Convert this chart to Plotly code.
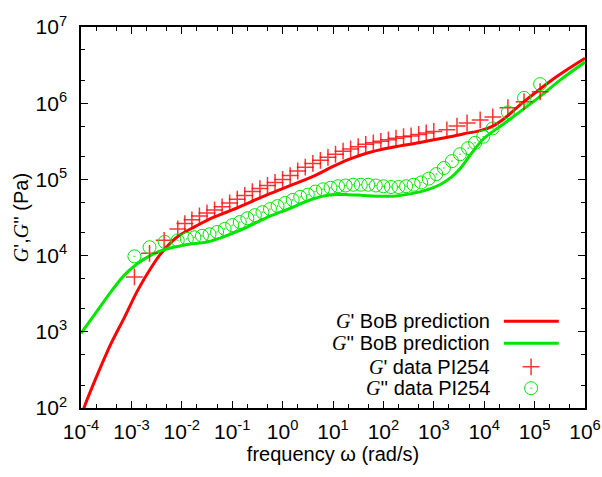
import numpy as np
import plotly.graph_objects as go

# BoB prediction curves (log10 frequency, log10 modulus)
logw_fit_Gp = [-4.0, -3.93, -3.66, -3.40, -3.13, -2.87, -2.60, -2.41, -2.08, -1.74, -1.48, -1.0,
               -0.65, -0.3, 0.0, 0.35, 0.7, 1.0, 1.34, 1.7, 2.0, 2.33, 2.7, 3.0, 3.32, 3.6, 3.92,
               4.17, 4.4, 4.77, 5.0, 5.44, 6.0]
logG_fit_Gp = [1.88, 2.02, 2.46, 2.85, 3.20, 3.55, 3.85, 4.03, 4.25, 4.38, 4.47, 4.60,
               4.70, 4.80, 4.88, 4.97, 5.07, 5.17, 5.27, 5.35, 5.40, 5.44, 5.48, 5.52, 5.56, 5.60, 5.64,
               5.70, 5.80, 6.01, 6.13, 6.35, 6.59]

logw_fit_Gpp = [-4.0, -3.66, -3.40, -3.13, -2.87, -2.60, -2.34, -1.94, -1.48, -1.2, -0.85, -0.5, -0.2,
                0.15, 0.5, 0.8, 1.0, 1.3, 1.6, 1.93, 2.2, 2.53, 2.85, 3.12, 3.35, 3.52, 3.78, 4.0,
                4.45, 5.11, 5.5, 6.0]
logG_fit_Gpp = [2.98, 3.29, 3.53, 3.75, 3.90, 4.01, 4.08, 4.14, 4.18, 4.24, 4.33, 4.44, 4.53,
                4.62, 4.72, 4.78, 4.80, 4.80, 4.79, 4.78, 4.78, 4.81, 4.86, 4.93, 5.03, 5.14, 5.37, 5.54,
                5.76, 6.09, 6.30, 6.54]

# Measured data PI254 (log10 values)
logw_data_Gp = [-2.94, -2.64, -2.35, -2.08, -1.94, -1.8, -1.65, -1.5, -1.35, -1.2, -1.05, -0.9, -0.75,
                -0.6, -0.45, -0.3, -0.15, 0.0, 0.15, 0.3, 0.45, 0.6, 0.75, 0.9, 1.05, 1.2, 1.35,
                1.5, 1.65, 1.8, 1.95, 2.1, 2.25, 2.4, 2.55, 2.7, 2.85, 3.0, 3.26, 3.46, 3.66, 3.92,
                4.17, 4.47, 4.79, 5.11]
logG_data_Gp = [3.72, 4.03, 4.20, 4.35, 4.42, 4.47, 4.52, 4.56, 4.60, 4.64, 4.69, 4.74, 4.79,
                4.84, 4.88, 4.92, 4.96, 5.00, 5.05, 5.11, 5.16, 5.21, 5.25, 5.29, 5.33, 5.37, 5.40,
                5.43, 5.46, 5.48, 5.50, 5.52, 5.54, 5.56, 5.57, 5.59, 5.61, 5.63, 5.65, 5.70, 5.74, 5.78,
                5.82, 5.94, 6.02, 6.15]

logw_data_Gpp = [-2.94, -2.64, -2.34, -2.08, -1.9, -1.75, -1.6, -1.45, -1.3, -1.15, -1.0, -0.85, -0.7,
                 -0.55, -0.4, -0.25, -0.1, 0.05, 0.2, 0.35, 0.5, 0.65, 0.8, 0.95, 1.1, 1.25, 1.4,
                 1.55, 1.7, 1.85, 2.0, 2.15, 2.3, 2.45, 2.6, 2.75, 2.9, 3.05, 3.2, 3.36, 3.52, 3.68,
                 3.82, 3.98, 4.17, 4.47, 4.79, 5.11]
logG_data_Gpp = [3.99, 4.11, 4.18, 4.20, 4.22, 4.24, 4.26, 4.28, 4.31, 4.35, 4.40, 4.44, 4.49,
                 4.53, 4.57, 4.61, 4.65, 4.69, 4.73, 4.77, 4.80, 4.84, 4.87, 4.89, 4.91, 4.92, 4.93,
                 4.93, 4.93, 4.92, 4.91, 4.90, 4.90, 4.91, 4.93, 4.96, 5.01, 5.07, 5.15, 5.24, 5.33, 5.41,
                 5.48, 5.56, 5.67, 5.88, 6.07, 6.25]

x_exponents = [-4, -3, -2, -1, 0, 1, 2, 3, 4, 5, 6]
y_exponents = [2, 3, 4, 5, 6, 7]

GI = "<span style='font-family:Liberation Serif'><i>G</i></span>"
legend_labels = [GI + "' BoB prediction", GI + "'' BoB prediction",
                 GI + "' data PI254", GI + "'' data PI254"]

RED = "#ff0000"
GREEN = "#00e600"
pw = lambda a: np.power(10.0, np.array(a))

fig = go.Figure()
fig.add_trace(go.Scatter(x=pw(logw_fit_Gp), y=pw(logG_fit_Gp), mode="lines",
                         line=dict(color=RED, width=3), line_shape="spline", showlegend=False))
fig.add_trace(go.Scatter(x=pw(logw_fit_Gpp), y=pw(logG_fit_Gpp), mode="lines",
                         line=dict(color=GREEN, width=3), line_shape="spline", showlegend=False))
fig.add_trace(go.Scatter(x=pw(logw_data_Gp), y=pw(logG_data_Gp), mode="markers",
                         marker=dict(symbol="cross-thin-open", size=12, color=RED, opacity=0.8,
                                     line=dict(color=RED, width=1.5)), showlegend=False))
fig.add_trace(go.Scatter(x=pw(logw_data_Gpp), y=pw(logG_data_Gpp), mode="markers",
                         marker=dict(symbol="circle-open-dot", size=13, color=GREEN,
                                     line=dict(color=GREEN, width=1)), showlegend=False))

# custom legend on an overlay axis (0..1 in plot area)
leg_y = [0.228, 0.170, 0.108, 0.052]
fig.add_trace(go.Scatter(x=[0.839, 0.948], y=[leg_y[0]] * 2, mode="lines", line=dict(color=RED, width=3),
                         xaxis="x2", yaxis="y2", showlegend=False))
fig.add_trace(go.Scatter(x=[0.839, 0.948], y=[leg_y[1]] * 2, mode="lines", line=dict(color=GREEN, width=3),
                         xaxis="x2", yaxis="y2", showlegend=False))
fig.add_trace(go.Scatter(x=[0.893], y=[leg_y[2]], mode="markers",
                         marker=dict(symbol="cross-thin-open", size=12, color=RED, opacity=0.8,
                                     line=dict(color=RED, width=1.5)),
                         xaxis="x2", yaxis="y2", showlegend=False))
fig.add_trace(go.Scatter(x=[0.893], y=[leg_y[3]], mode="markers",
                         marker=dict(symbol="circle-open-dot", size=13, color=GREEN,
                                     line=dict(color=GREEN, width=1)),
                         xaxis="x2", yaxis="y2", showlegend=False))
for lab, yy in zip(legend_labels, leg_y):
    fig.add_annotation(x=0.815, y=yy, xref="x2", yref="y2", text=lab, showarrow=False,
                       xanchor="right", yanchor="middle", font=dict(size=20, color="black"))

FONT = "Liberation Sans, Arial, sans-serif"
fig.update_layout(
    width=602, height=477,
    margin=dict(l=81, r=17, t=27, b=69, autoexpand=False),
    plot_bgcolor="white", paper_bgcolor="white",
    font=dict(family=FONT, size=21, color="black"),
    xaxis=dict(type="log", range=[-4, 6], automargin=False,
               tickvals=[10.0 ** e for e in x_exponents],
               ticktext=[f"10<sup>{e}</sup>" for e in x_exponents],
               ticks="inside", ticklen=7, tickcolor="black", tickwidth=1,
               minor=dict(ticks="inside", ticklen=4, tickcolor="black", showgrid=False),
               showline=True, linecolor="black", linewidth=1.5, mirror="allticks",
               showgrid=False, zeroline=False, ticklabelstandoff=4,
               title=dict(text="frequency ω (rad/s)", font=dict(size=20), standoff=5)),
    yaxis=dict(type="log", range=[2, 7], automargin=False,
               tickvals=[10.0 ** e for e in y_exponents],
               ticktext=[f"10<sup>{e}</sup>" for e in y_exponents],
               ticks="inside", ticklen=7, tickcolor="black", tickwidth=1,
               minor=dict(ticks="inside", ticklen=4, tickcolor="black", showgrid=False),
               showline=True, linecolor="black", linewidth=1.5, mirror="allticks",
               showgrid=False, zeroline=False, ticklabelstandoff=8,
               title=dict(text=GI + "'," + GI + "'' (Pa)", font=dict(size=20), standoff=2)),
    xaxis2=dict(overlaying="x", range=[0, 1], visible=False, automargin=False),
    yaxis2=dict(overlaying="y", range=[0, 1], visible=False, automargin=False),
)

fig.write_html("out.html")
